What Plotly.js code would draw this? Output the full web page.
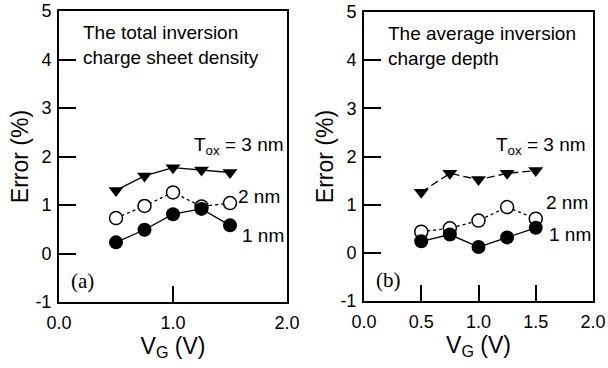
<!DOCTYPE html>
<html>
<head>
<meta charset="utf-8">
<script src="https://cdn.plot.ly/plotly-3.0.1.min.js"></script>
<style>
  html, body { margin: 0; padding: 0; background: #fff; }
  #chart { width: 608px; height: 368px; }
</style>
</head>
<body>
<div id="chart"></div>
<script>
// Gate voltage samples (V)
const vg = [0.5, 0.75, 1.0, 1.25, 1.5];

// (a) total inversion charge sheet density: error (%)
const errSheet3nm = [1.30, 1.60, 1.77, 1.72, 1.67];
const errSheet2nm = [0.73, 0.98, 1.26, 0.97, 1.04];
const errSheet1nm = [0.23, 0.49, 0.81, 0.92, 0.58];

// (b) average inversion charge depth: error (%)
const errDepth3nm = [1.26, 1.65, 1.52, 1.65, 1.71];
const errDepth2nm = [0.44, 0.51, 0.67, 0.95, 0.71];
const errDepth1nm = [0.24, 0.38, 0.12, 0.32, 0.52];

const yTickVals = [-1, 0, 1, 2, 3, 4, 5];
const yTickText = ['-1', '0', '1', '2', '3', '4', '5'];

const FONT = 'Liberation Sans, Arial, Helvetica, sans-serif';
const SERIF = 'Liberation Serif, Times New Roman, serif';

function series(xa, ya, y, kind, dash) {
  const base = { x: vg, y: y, xaxis: xa, yaxis: ya, type: 'scatter',
                 mode: 'lines+markers', hoverinfo: 'skip', showlegend: false };
  if (kind === 'tri') {
    base.line = { color: '#000', width: 1.3, dash: dash };
    base.marker = { symbol: 'triangle-down', size: 13, color: '#000' };
  } else if (kind === 'open') {
    base.line = { color: '#000', width: 1.3, dash: 'dot' };
    base.marker = { symbol: 'circle', size: 13, color: '#fff',
                    line: { color: '#000', width: 1.5 } };
  } else {
    base.line = { color: '#000', width: 1.3, dash: 'solid' };
    base.marker = { symbol: 'circle', size: 14, color: '#000' };
  }
  return base;
}

const data = [
  series('x', 'y', errSheet3nm, 'tri', 'solid'),
  series('x', 'y', errSheet2nm, 'open'),
  series('x', 'y', errSheet1nm, 'fill'),
  series('x2', 'y2', errDepth3nm, 'tri', '8px,4px'),
  series('x2', 'y2', errDepth2nm, 'open'),
  series('x2', 'y2', errDepth1nm, 'fill')
];

function xAxis(domain, dtick, anchor) {
  return {
    domain: domain, range: [0, 2], dtick: dtick, tick0: 0, tickformat: '.1f',
    anchor: anchor, showgrid: false, zeroline: false,
    showline: true, mirror: true, linecolor: '#000', linewidth: 2,
    ticks: 'inside', ticklen: 16, tickwidth: 2, tickcolor: '#000',
    ticklabelstandoff: 3,
    tickfont: { family: FONT, size: 18, color: '#000' },
    title: { text: 'V<sub>G</sub> (V)', font: { family: FONT, size: 23, color: '#000' }, standoff: 5 }
  };
}
function yAxis(domain, anchor) {
  return {
    domain: domain, range: [-1, 5], tickvals: yTickVals, ticktext: yTickText,
    anchor: anchor, showgrid: false, zeroline: false,
    showline: true, mirror: true, linecolor: '#000', linewidth: 2,
    ticks: 'inside', ticklen: 17, tickwidth: 2, tickcolor: '#000',
    ticklabelstandoff: 2,
    tickfont: { family: FONT, size: 18, color: '#000' },
    title: { text: 'Error (%)', font: { family: FONT, size: 23, color: '#000' }, standoff: 0 }
  };
}

const ann = (xref, yref, x, y, text, opts) => Object.assign({
  xref: xref, yref: yref, x: x, y: y, text: text, showarrow: false,
  xanchor: 'left', yanchor: 'middle',
  font: { family: FONT, size: 19, color: '#000' }
}, opts || {});

const annotations = [
  ann('x', 'y', 0.19, 4.29, 'The total inversion<br>charge sheet density', { align: 'left' }),
  ann('x', 'y', 1.17, 2.22, 'T<sub>ox</sub> = 3 nm'),
  ann('x', 'y', 1.55, 1.17, '2 nm'),
  ann('x', 'y', 1.59, 0.38, '1 nm'),
  ann('x', 'y', 0.09, -0.57, '(a)', { font: { family: SERIF, size: 21, color: '#000' } }),

  ann('x2', 'y2', 0.19, 4.29, 'The average inversion<br>charge depth', { align: 'left' }),
  ann('x2', 'y2', 1.135, 2.22, 'T<sub>ox</sub> = 3 nm'),
  ann('x2', 'y2', 1.57, 1.05, '2 nm'),
  ann('x2', 'y2', 1.6, 0.39, '1 nm'),
  ann('x2', 'y2', 0.09, -0.57, '(b)', { font: { family: SERIF, size: 21, color: '#000' } })
];

const layout = {
  width: 608, height: 368,
  margin: { l: 0, r: 0, t: 0, b: 0 },
  paper_bgcolor: '#fff', plot_bgcolor: '#fff',
  xaxis: xAxis([59 / 608, 287 / 608], 1, 'y'),
  yaxis: yAxis([1 - 302 / 368, 1 - 11 / 368], 'x'),
  xaxis2: xAxis([364 / 608, 593 / 608], 0.5, 'y2'),
  yaxis2: yAxis([1 - 301 / 368, 1 - 12 / 368], 'x2'),
  annotations: annotations
};

Plotly.newPlot('chart', data, layout, { displayModeBar: false, staticPlot: true });
</script>
</body>
</html>
